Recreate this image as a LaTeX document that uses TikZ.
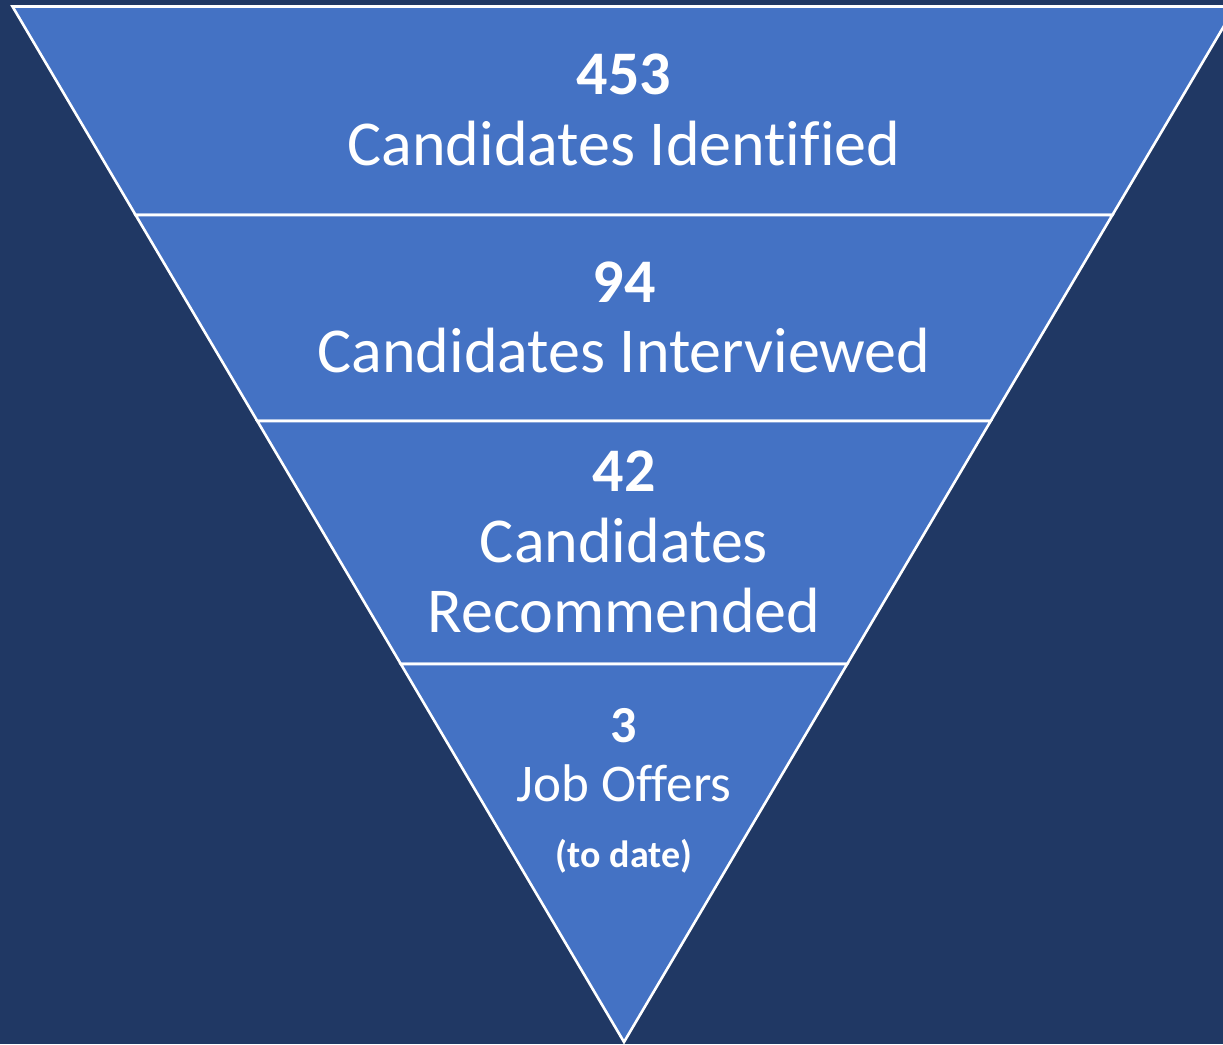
\documentclass[tikz,border=0pt]{standalone}
\usepackage{fontspec}
\setmainfont[Ligatures=NoCommon]{Carlito}
\definecolor{bgnavy}{HTML}{203864}
\definecolor{funnelblue}{HTML}{4472C4}
\tikzset{
  band/.style={fill=funnelblue, draw=white, line width=2.6pt, line join=miter},
  num/.style={text=white, anchor=base, font=\fontsize{62}{70}\selectfont\bfseries, inner sep=0pt},
  lbl/.style={text=white, anchor=base, font=\fontsize{64}{70}\selectfont, inner sep=0pt},
  numsmall/.style={text=white, anchor=base, font=\fontsize{52}{60}\selectfont\bfseries, inner sep=0pt},
  lblsmall/.style={text=white, anchor=base, font=\fontsize{53}{60}\selectfont, inner sep=0pt},
  note/.style={text=white, anchor=base, font=\fontsize{38}{42}\selectfont\bfseries, inner sep=0pt},
}
\begin{document}
\begin{tikzpicture}[x=1pt, y=-1pt]
\useasboundingbox (0,0) rectangle (1223,1044);
\fill[bgnavy] (0,0) rectangle (1223,1044);
\clip (0,0) rectangle (1223,1044);
% funnel geometry: top y=6.5, apex (624,1042), slope 0.5905
\coordinate (tl) at (12.5,6.5);
\coordinate (tr) at (1235.5,6.5);
\coordinate (l1) at (135.6,215);
\coordinate (r1) at (1112.4,215);
\coordinate (l2) at (257.3,421);
\coordinate (r2) at (990.7,421);
\coordinate (l3) at (400.8,664);
\coordinate (r3) at (847.2,664);
\coordinate (apex) at (624,1042);
\draw[band] (tl) -- (tr) -- (r1) -- (l1) -- cycle;
\draw[band] (l1) -- (r1) -- (r2) -- (l2) -- cycle;
\draw[band] (l2) -- (r2) -- (r3) -- (l3) -- cycle;
\draw[band] (l3) -- (r3) -- (apex) -- cycle;
% texts
\node[num] (n1) at (624,94) {453};
\node[lbl] (t1) at (624,165) {Candidates Identified};
\node[num] (n2) at (624,302) {94};
\node[lbl] (t2) at (624,372) {Candidates Interviewed};
\node[num] (n3) at (624,491) {42};
\node[lbl] (t3a) at (624,562) {Candidates};
\node[lbl] (t3b) at (624,632) {Recommended};
\node[numsmall] (n4) at (624,742) {3};
\node[lblsmall] (t4) at (624,801) {Job Offers};
\node[note] (t4n) at (624,867) {(to date)};
\end{tikzpicture}
\end{document}
